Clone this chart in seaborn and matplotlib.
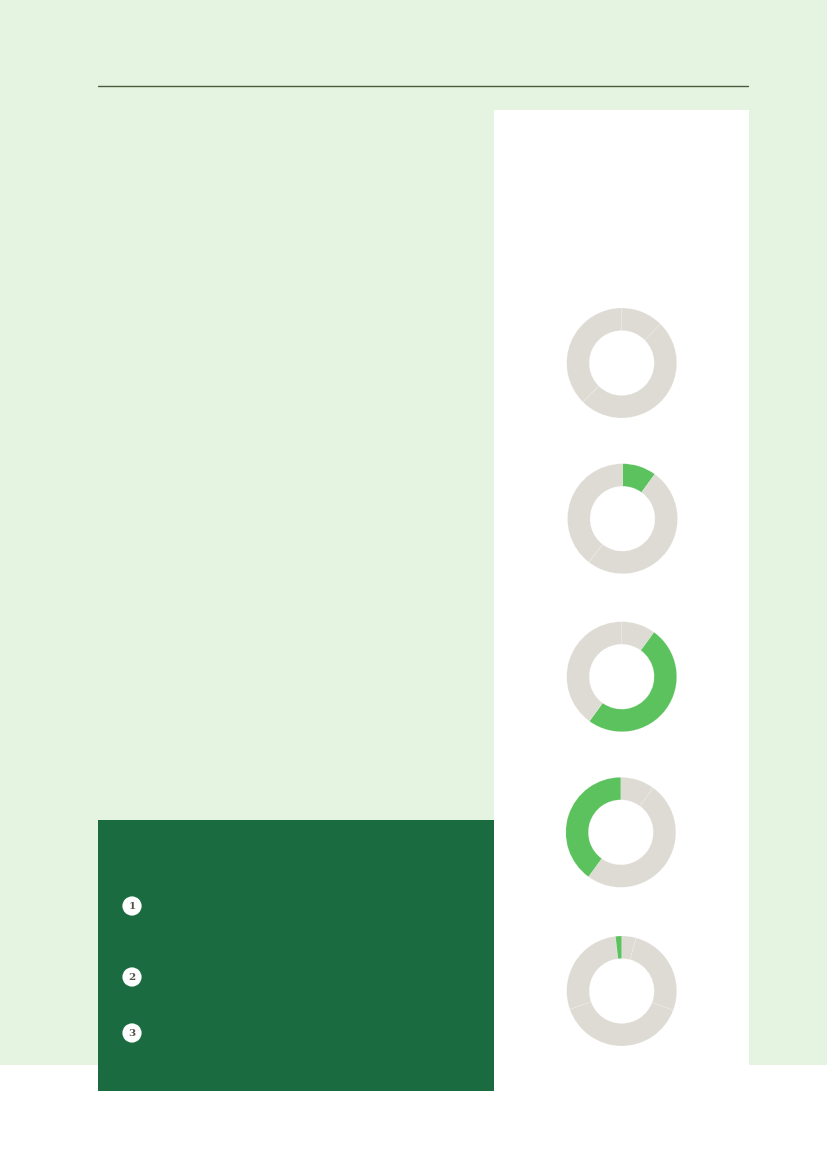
import numpy as np
import matplotlib
matplotlib.use("Agg")
import matplotlib.pyplot as plt
from matplotlib.patches import Rectangle, Circle
import seaborn as sns

# donut shares (percent, clockwise from 12 o'clock) and highlighted slice
donut1 = [12.5, 50.0, 37.5]
donut2 = [10.0, 50.5, 39.5]
donut3 = [10.0, 50.0, 40.0]
donut4 = [10.0, 50.0, 40.0]
donut5 = [4.2, 26.5, 38.9, 28.6, 1.8]
donuts = [donut1, donut2, donut3, donut4, donut5]
highlight = [None, 0, 1, 2, 4]
steps = ["1", "2", "3"]

sns.set_theme(style="white")
plt.rcParams['font.family'] = ['DejaVu Serif', 'DejaVu Sans']

GREEN_BG = "#e5f4e1"
DARK = "#1b6b40"
HI = "#5bc25e"
GREY = "#dedbd4"

W, H = 827, 1169
fig = plt.figure(figsize=(W / 100, H / 100), dpi=100, facecolor="white")

# background layer in pixel coordinates
bg = fig.add_axes([0, 0, 1, 1])
bg.set_xlim(0, W)
bg.set_ylim(H, 0)
bg.axis("off")
bg.add_patch(Rectangle((0, 0), W, 1064.5, color=GREEN_BG, lw=0))
bg.add_patch(Rectangle((494, 110), 255, 954.5, color="white", lw=0))
bg.add_patch(Rectangle((98.3, 820), 395.7, 270.5, color=DARK, lw=0))
bg.plot([98.3, 747.7], [86.3, 86.3], color="#4b5c3d", lw=1.0)

step_y = [906, 977, 1033]
for lab, yy in zip(steps, step_y):
    bg.add_patch(Circle((132, yy), 9.6, color="white", lw=0))
    bg.text(132, yy + 0.5, lab, ha="center", va="center", fontsize=7.5,
            fontweight="bold", color="#55534a")

# donuts
centers = [(621.7, 363), (622.5, 518.7), (621.7, 676.7), (620.8, 832.3), (621.7, 991)]
R = 55
for vals, hi, (cx, cy) in zip(donuts, highlight, centers):
    ax = fig.add_axes([(cx - R) / W, 1 - (cy + R) / H, 2 * R / W, 2 * R / H])
    cols = [HI if i == hi else GREY for i in range(len(vals))]
    ax.pie(vals, colors=cols, startangle=90, counterclock=False, radius=1,
           wedgeprops=dict(width=0.41, edgecolor=(1, 1, 1, 0.3), linewidth=0.4))
    ax.set_xlim(-1, 1)
    ax.set_ylim(-1, 1)
    ax.set_aspect("equal")
    ax.axis("off")

fig.savefig("out.png", dpi=100, facecolor="white")
